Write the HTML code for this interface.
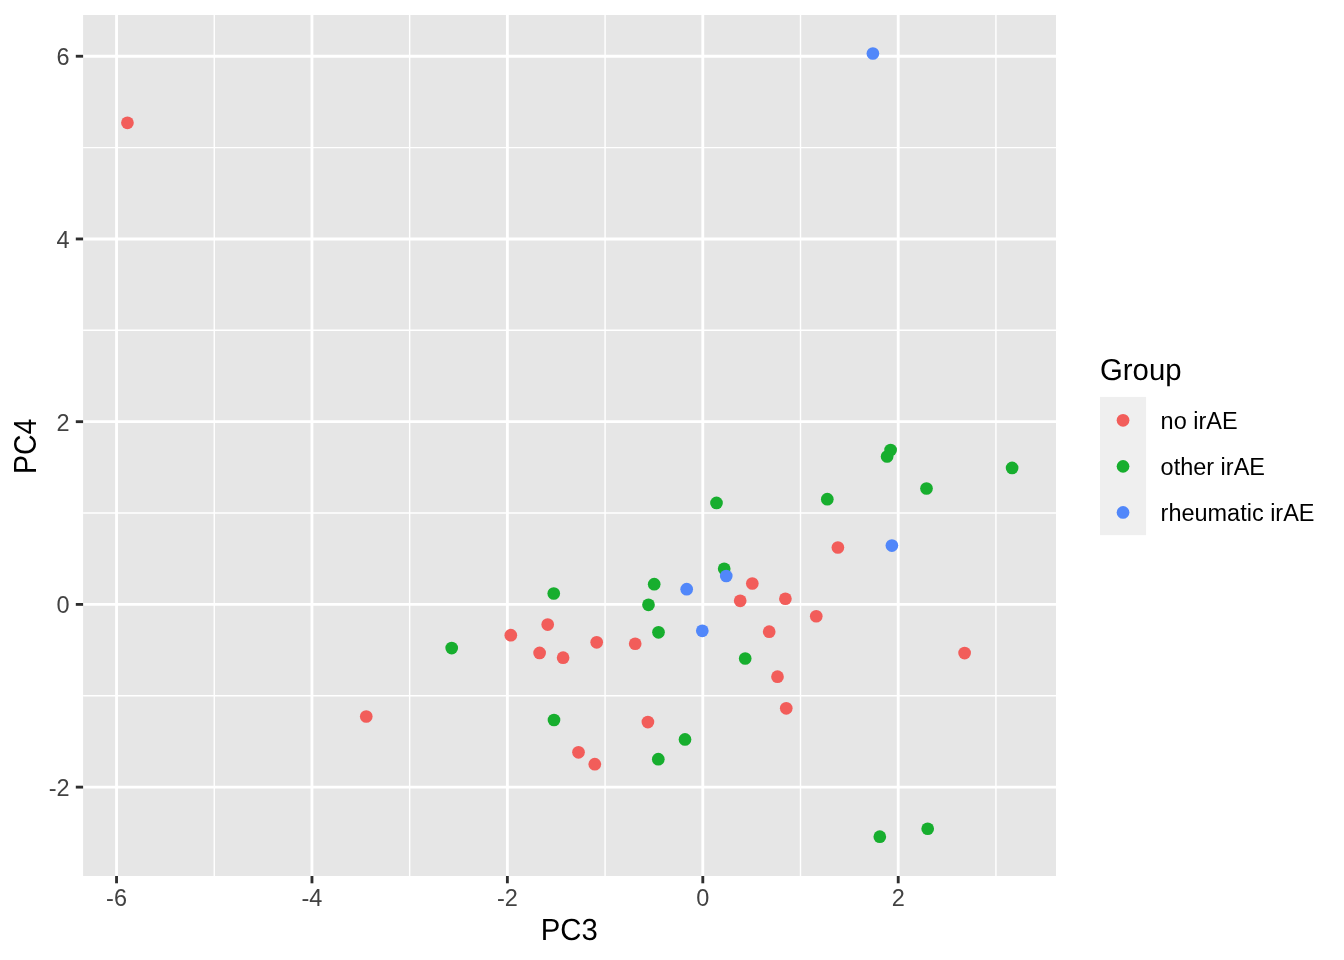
<!DOCTYPE html>
<html lang="en"><head><meta charset="utf-8"><title>PC3 vs PC4</title>
<style>html,body{margin:0;padding:0;background:#fff}body{width:1344px;height:960px;overflow:hidden}svg{display:block}text{font-family:"Liberation Sans",Arial,Helvetica,sans-serif}</style></head><body>
<svg width="1344" height="960" viewBox="0 0 1344 960">
<rect width="1344" height="960" fill="#fff"/>
<rect x="83.1" y="15.0" width="972.90" height="861.00" fill="#E6E6E6"/>
<g stroke="#fff" stroke-width="1.42" fill="none">
<line x1="214.25" x2="214.25" y1="15.0" y2="876.0"/>
<line x1="409.67" x2="409.67" y1="15.0" y2="876.0"/>
<line x1="605.09" x2="605.09" y1="15.0" y2="876.0"/>
<line x1="800.51" x2="800.51" y1="15.0" y2="876.0"/>
<line x1="995.93" x2="995.93" y1="15.0" y2="876.0"/>
<line y1="695.76" y2="695.76" x1="83.1" x2="1056.0"/>
<line y1="513.04" y2="513.04" x1="83.1" x2="1056.0"/>
<line y1="330.32" y2="330.32" x1="83.1" x2="1056.0"/>
<line y1="147.60" y2="147.60" x1="83.1" x2="1056.0"/>
</g>
<g stroke="#fff" stroke-width="2.85" fill="none">
<line x1="116.54" x2="116.54" y1="15.0" y2="876.0"/>
<line x1="311.96" x2="311.96" y1="15.0" y2="876.0"/>
<line x1="507.38" x2="507.38" y1="15.0" y2="876.0"/>
<line x1="702.80" x2="702.80" y1="15.0" y2="876.0"/>
<line x1="898.22" x2="898.22" y1="15.0" y2="876.0"/>
<line y1="787.12" y2="787.12" x1="83.1" x2="1056.0"/>
<line y1="604.40" y2="604.40" x1="83.1" x2="1056.0"/>
<line y1="421.68" y2="421.68" x1="83.1" x2="1056.0"/>
<line y1="238.96" y2="238.96" x1="83.1" x2="1056.0"/>
<line y1="56.24" y2="56.24" x1="83.1" x2="1056.0"/>
</g>
<g fill="#F25D5A">
<circle cx="127.45" cy="122.80" r="6.35"/>
<circle cx="366.25" cy="716.50" r="6.35"/>
<circle cx="510.80" cy="635.20" r="6.35"/>
<circle cx="547.70" cy="624.60" r="6.35"/>
<circle cx="539.60" cy="652.90" r="6.35"/>
<circle cx="563.10" cy="657.70" r="6.35"/>
<circle cx="596.70" cy="642.30" r="6.35"/>
<circle cx="635.20" cy="643.75" r="6.35"/>
<circle cx="578.50" cy="752.30" r="6.35"/>
<circle cx="594.80" cy="764.20" r="6.35"/>
<circle cx="647.90" cy="722.10" r="6.35"/>
<circle cx="837.90" cy="547.50" r="6.35"/>
<circle cx="752.30" cy="583.50" r="6.35"/>
<circle cx="740.20" cy="600.80" r="6.35"/>
<circle cx="785.40" cy="598.75" r="6.35"/>
<circle cx="816.25" cy="616.25" r="6.35"/>
<circle cx="769.20" cy="631.70" r="6.35"/>
<circle cx="777.50" cy="676.70" r="6.35"/>
<circle cx="786.25" cy="708.30" r="6.35"/>
<circle cx="964.60" cy="653.10" r="6.35"/>
</g>
<g fill="#17AE2E">
<circle cx="451.70" cy="648.10" r="6.35"/>
<circle cx="553.75" cy="593.50" r="6.35"/>
<circle cx="554.00" cy="720.00" r="6.35"/>
<circle cx="724.20" cy="568.75" r="6.35"/>
<circle cx="654.20" cy="584.20" r="6.35"/>
<circle cx="648.50" cy="604.80" r="6.35"/>
<circle cx="658.50" cy="632.30" r="6.35"/>
<circle cx="745.20" cy="658.50" r="6.35"/>
<circle cx="685.00" cy="739.40" r="6.35"/>
<circle cx="658.30" cy="759.20" r="6.35"/>
<circle cx="890.60" cy="450.00" r="6.35"/>
<circle cx="887.10" cy="456.50" r="6.35"/>
<circle cx="1012.10" cy="467.90" r="6.35"/>
<circle cx="926.50" cy="488.50" r="6.35"/>
<circle cx="827.30" cy="499.20" r="6.35"/>
<circle cx="879.80" cy="836.70" r="6.35"/>
<circle cx="927.70" cy="828.75" r="6.35"/>
<circle cx="716.50" cy="502.90" r="6.35"/>
</g>
<g fill="#5187FA">
<circle cx="726.25" cy="576.00" r="6.35"/>
<circle cx="686.70" cy="589.20" r="6.35"/>
<circle cx="702.30" cy="630.80" r="6.35"/>
<circle cx="891.90" cy="545.60" r="6.35"/>
<circle cx="872.90" cy="53.50" r="6.35"/>
</g>
<g stroke="#2E2E2E" stroke-width="2.85" fill="none">
<line x1="116.54" x2="116.54" y1="876.0" y2="883.3"/>
<line x1="311.96" x2="311.96" y1="876.0" y2="883.3"/>
<line x1="507.38" x2="507.38" y1="876.0" y2="883.3"/>
<line x1="702.80" x2="702.80" y1="876.0" y2="883.3"/>
<line x1="898.22" x2="898.22" y1="876.0" y2="883.3"/>
<line y1="787.12" y2="787.12" x1="75.80" x2="83.1"/>
<line y1="604.40" y2="604.40" x1="75.80" x2="83.1"/>
<line y1="421.68" y2="421.68" x1="75.80" x2="83.1"/>
<line y1="238.96" y2="238.96" x1="75.80" x2="83.1"/>
<line y1="56.24" y2="56.24" x1="75.80" x2="83.1"/>
</g>
<g fill="#424242" font-size="23.47">
<text x="116.54" y="906" text-anchor="middle">-6</text>
<text x="311.96" y="906" text-anchor="middle">-4</text>
<text x="507.38" y="906" text-anchor="middle">-2</text>
<text x="702.80" y="906" text-anchor="middle">0</text>
<text x="898.22" y="906" text-anchor="middle">2</text>
<text x="69.5" y="796" text-anchor="end">-2</text>
<text x="69.5" y="613" text-anchor="end">0</text>
<text x="69.5" y="431" text-anchor="end">2</text>
<text x="69.5" y="248" text-anchor="end">4</text>
<text x="69.5" y="65" text-anchor="end">6</text>
</g>
<g fill="#000" font-size="29.33">
<text transform="translate(569.3,940) scale(1,1.04)" text-anchor="middle" text-rendering="geometricPrecision">PC3</text>
<text transform="translate(35.7,446.35) rotate(-90) scale(0.972,1.06)" text-anchor="middle">PC4</text>
<text transform="translate(1100.0,379.7) scale(1,1.03)" text-rendering="geometricPrecision">Group</text>
</g>
<rect x="1100" y="396.9" width="46.08" height="138.24" fill="#EFEFEF"/>
<circle cx="1123.04" cy="420.29" r="6.35" fill="#F25D5A"/>
<text x="1160.6" y="429.14" font-size="23.47" fill="#000">no irAE</text>
<circle cx="1123.04" cy="466.37" r="6.35" fill="#17AE2E"/>
<text x="1160.6" y="475.22" font-size="23.47" fill="#000">other irAE</text>
<circle cx="1123.04" cy="512.45" r="6.35" fill="#5187FA"/>
<text x="1160.6" y="521.30" font-size="23.47" fill="#000">rheumatic irAE</text>
</svg></body></html>
